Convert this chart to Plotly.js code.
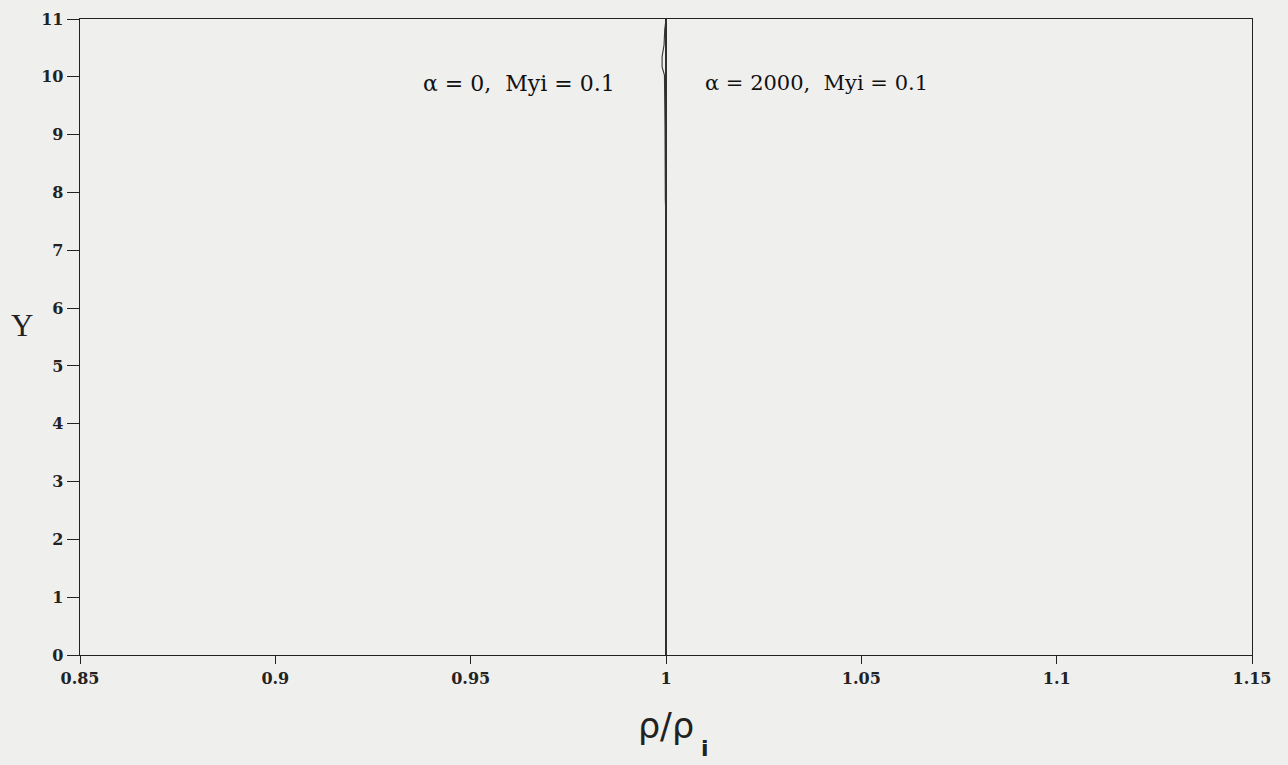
<!DOCTYPE html>
<html>
<head>
<meta charset="utf-8">
<script src="https://cdn.plot.ly/plotly-3.0.1.min.js"></script>
<style>html,body{margin:0;padding:0;background:#efefee;}</style>
</head>
<body>
<div id="chart" style="width:1288px;height:765px;"></div>
<script>
// alpha = 0, Myi = 0.1
const y_alpha0 = [0, 1, 2, 3, 4, 5, 6, 7, 8, 9, 10, 11];
const x_alpha0 = [1.0, 1.0, 1.0, 1.0, 1.0, 1.0, 1.0, 1.0, 1.0, 1.0, 1.0, 1.0];
// alpha = 2000, Myi = 0.1
const y_alpha2000 = [7.58, 7.87, 9.12, 10.03, 10.17, 10.35, 10.55, 10.81, 11.0];
const x_alpha2000 = [1.0, 0.99982, 0.99975, 0.9996, 0.9990, 0.9990, 0.9995, 0.99967, 1.0];

const xTicks = [0.85, 0.9, 0.95, 1, 1.05, 1.1, 1.15];
const xTickText = ['0.85', '0.9', '0.95', '1', '1.05', '1.1', '1.15'];
const yTicks = [0, 1, 2, 3, 4, 5, 6, 7, 8, 9, 10, 11];

const labels = ['α = 0,  Myi = 0.1', 'α = 2000,  Myi = 0.1'];

const traces = [
  {x: x_alpha0, y: y_alpha0, mode: 'lines', line: {color: '#1a1a1a', width: 1.8}, name: labels[0], showlegend: false},
  {x: x_alpha2000, y: y_alpha2000, mode: 'lines', line: {color: '#333', width: 1.1}, name: labels[1], showlegend: false}
];

const L = 80, R = 36, T = 19, B = 110;
const layout = {
  width: 1288, height: 765,
  paper_bgcolor: '#efefee', plot_bgcolor: '#efefee',
  margin: {l: L, r: R, t: T, b: B},
  showlegend: false,
  xaxis: {
    range: [0.85, 1.15], tickvals: xTicks, ticktext: xTickText,
    ticks: 'outside', ticklen: 8, tickcolor: '#222', tickwidth: 1,
    showgrid: false, zeroline: false, showline: true, linecolor: '#222', linewidth: 1.3, mirror: true,
    tickfont: {family: 'DejaVu Serif', size: 16, color: '#222', weight: 'bold'},
    title: {text: 'ρ/ρ', font: {family: 'DejaVu Sans', size: 35, color: '#222'}, standoff: 27}
  },
  yaxis: {
    range: [0, 11], tickvals: yTicks,
    ticks: 'outside', ticklen: 12, tickcolor: '#222', tickwidth: 1,
    showgrid: false, zeroline: false, showline: true, linecolor: '#222', linewidth: 1.3, mirror: true,
    tickfont: {family: 'DejaVu Serif', size: 16, color: '#222', weight: 'bold'}
  },
  annotations: [
    {x: 0.98746, y: 9.89, xref: 'x', yref: 'y', text: labels[0], showarrow: false, xanchor: 'right', yanchor: 'middle',
     font: {family: 'DejaVu Serif', size: 22, color: '#111'}},
    {x: 1.00947, y: 9.89, xref: 'x', yref: 'y', text: labels[1], showarrow: false, xanchor: 'left', yanchor: 'middle',
     font: {family: 'DejaVu Serif', size: 21, color: '#111'}},
    {x: 0, y: 0, xref: 'paper', yref: 'paper', text: 'Y', showarrow: false, xanchor: 'center', yanchor: 'middle',
     font: {family: 'Liberation Serif', size: 31, color: '#222'}},
    {x: 0, y: 0, xref: 'paper', yref: 'paper', text: 'i', showarrow: false, xanchor: 'center', yanchor: 'middle',
     font: {family: 'DejaVu Sans', size: 22, color: '#222', weight: 'bold'}}
  ]
};
// paper coordinates for the free-standing labels (Y title and the subscript i)
const pw = 1288 - L - R, ph = 765 - T - B;
layout.annotations[2].x = (22 - L) / pw;
layout.annotations[2].y = (765 - B - 326) / ph;
layout.annotations[3].x = (705 - L) / pw;
layout.annotations[3].y = (765 - B - 748) / ph;

Plotly.newPlot('chart', traces, layout, {displayModeBar: false, staticPlot: true});
</script>
</body>
</html>
